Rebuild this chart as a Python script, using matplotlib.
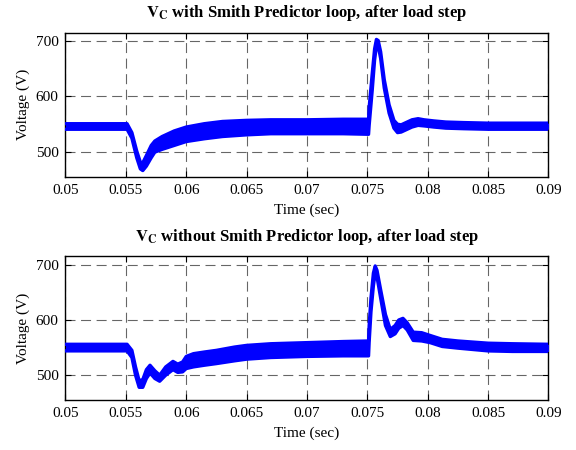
import numpy as np
import matplotlib
matplotlib.use('Agg')
import matplotlib.pyplot as plt

plt.rcParams['font.family'] = ['Liberation Serif', 'DejaVu Serif']
plt.rcParams['mathtext.fontset'] = 'stix'

# --- data: ripple envelope (upper / lower) ---
t_top = [0.0500, 0.0551, 0.0555, 0.0559, 0.0562, 0.0564, 0.0567, 0.0571, 0.0574,
         0.0580, 0.0590, 0.0600, 0.0615, 0.0630, 0.0650, 0.0670, 0.0700, 0.0730,
         0.0751, 0.07515, 0.0754, 0.0756, 0.07575, 0.0759, 0.0761, 0.0764, 0.0768,
         0.0772, 0.0775, 0.0778, 0.0782, 0.0787, 0.0792, 0.0797, 0.0805, 0.0815,
         0.0830, 0.0850, 0.0900]
upper_top = [551, 551, 535, 502, 482, 481, 494, 512, 520,
             528, 538, 545, 551, 555, 557, 558, 558, 559,
             559, 580, 640, 685, 702, 700, 680, 630, 585,
             557, 550, 549, 553, 558, 560, 558, 556, 554,
             553, 552, 552]
lower_top = [541, 541, 525, 490, 470, 467, 475, 490, 500,
             505, 512, 519, 524, 528, 531, 533, 533, 533,
             532, 548, 610, 665, 690, 690, 668, 615, 570,
             543, 535, 536, 540, 545, 548, 547, 545, 543,
             542, 541, 541]

t_bot = [0.0500, 0.0551, 0.0555, 0.0558, 0.0561, 0.0564, 0.0567, 0.0570, 0.0574,
         0.0578, 0.0583, 0.0589, 0.0593, 0.0597, 0.0600, 0.0606, 0.0615, 0.0625,
         0.0640, 0.0650, 0.0670, 0.0700, 0.0730, 0.0751, 0.07515, 0.0753, 0.0755,
         0.07565, 0.0758, 0.0761, 0.0765, 0.0769, 0.0773, 0.0776, 0.07795, 0.0783,
         0.0788, 0.0795, 0.0802, 0.0812, 0.0825, 0.0850, 0.0870, 0.0900]
upper_bot = [556, 556, 545, 515, 490, 492, 510, 518, 508,
             500, 515, 525, 520, 524, 534, 539, 542, 545,
             551, 554, 557, 559, 561, 562, 590, 640, 685,
             698, 690, 655, 610, 583, 590, 600, 603, 595,
             578, 577, 572, 565, 562, 558, 557, 556]
lower_bot = [544, 544, 532, 500, 478, 478, 494, 504, 494,
             489, 500, 510, 505, 506, 512, 515, 518, 521,
             526, 529, 532, 534, 535, 535, 560, 615, 662,
             685, 678, 640, 590, 570, 575, 585, 590, 582,
             563, 562, 559, 552, 549, 544, 543, 543]

x_ticks = [0.05, 0.055, 0.06, 0.065, 0.07, 0.075, 0.08, 0.085, 0.09]
x_tick_labels = ['0.05', '0.055', '0.06', '0.065', '0.07', '0.075', '0.08', '0.085', '0.09']
y_ticks = [500, 600, 700]

titles = [r'$\mathbf{V_C}$ with Smith Predictor loop, after load step',
          r'$\mathbf{V_C}$ without Smith Predictor loop, after load step']

fig = plt.figure(figsize=(5.76, 4.5), dpi=100)
ax1 = fig.add_axes([0.1137, 0.6073, 0.8385, 0.32])
ax2 = fig.add_axes([0.1137, 0.1111, 0.8385, 0.32])

panels = [(ax1, t_top, upper_top, lower_top, (456, 714), titles[0]),
          (ax2, t_bot, upper_bot, lower_bot, (455, 716), titles[1])]

for ax, t, up, lo, ylim, title in panels:
    ax.fill_between(t, lo, up, color='#0000ff', linewidth=0, zorder=3)
    ax.plot(t, up, color='#0000ff', linewidth=2.4, zorder=3)
    ax.plot(t, lo, color='#0000ff', linewidth=2.4, zorder=3)
    ax.set_xlim(0.05, 0.09)
    ax.set_ylim(*ylim)
    ax.set_xticks(x_ticks)
    ax.set_xticklabels(x_tick_labels)
    ax.set_yticks(y_ticks)
    ax.tick_params(direction='in', top=True, right=True, labelsize=11,
                   length=4, width=0.8, pad=5)
    ax.grid(True, color='0.2', linestyle=(0, (9, 5)), linewidth=0.8, alpha=0.75)
    for sp in ax.spines.values():
        sp.set_linewidth(1.0)
    ax.set_xlabel('Time (sec)', fontsize=11, labelpad=5)
    ax.set_ylabel('Voltage (V)', fontsize=11, labelpad=4)
    ax.set_title(title, fontsize=12, fontweight='bold', pad=11)

fig.savefig('out.png', dpi=100)
